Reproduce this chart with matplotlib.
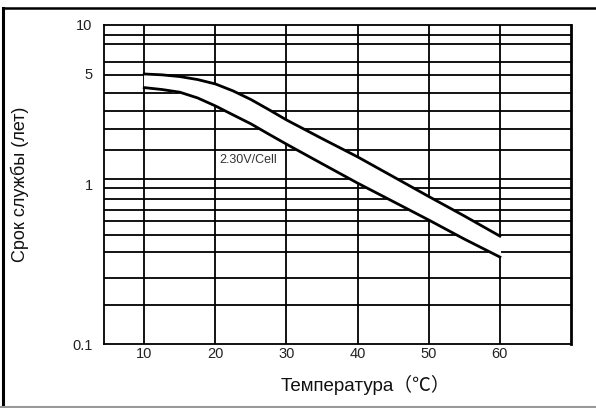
import matplotlib
matplotlib.use("Agg")
import matplotlib.pyplot as plt
from matplotlib.lines import Line2D
from matplotlib.ticker import NullLocator

# Температура (°C) и срок службы (лет) для 2.30V/Cell
temp = [10, 12.5, 15, 17.5, 20, 22.5, 25, 27.5, 30, 35, 40, 45, 50, 55, 60]
life_upper = [4.93, 4.87, 4.75, 4.55, 4.27, 3.86, 3.41, 2.95, 2.54,
              1.94, 1.49, 1.12, 0.841, 0.635, 0.475]
life_lower = [4.05, 3.94, 3.79, 3.49, 3.11, 2.73, 2.40, 2.07, 1.79,
              1.35, 1.02, 0.782, 0.599, 0.455, 0.351]

# сетка графика
x_grid = [10, 20, 30, 40, 50, 60]
y_grid = [8.66, 7.60, 5.86, 4.86, 3.72, 2.89, 2.24, 1.65, 1.08, 0.95,
          0.81, 0.69, 0.59, 0.48, 0.38, 0.26, 0.176]

y_ticks = [0.1, 1, 5, 10]
y_ticklabels = ["0.1", "1", "5", "10"]

W, H = 596, 408
fig = plt.figure(figsize=(W / 100, H / 100), dpi=100)
ax = fig.add_axes([104.4 / W, 1 - 344 / H, (571 - 104.4) / W, (344 - 25) / H])

ax.set_yscale("log")
ax.set_xlim(4.4, 70)
ax.set_ylim(0.1, 10)

for x in x_grid:
    ax.axvline(x, color="black", lw=1.3, zorder=1)
for y in y_grid:
    ax.axhline(y, color="black", lw=1.3, zorder=1)

# белая полоса между кривыми
ax.fill_between(temp, life_lower, life_upper, color="white", zorder=2)
ax.plot(temp, life_upper, color="black", lw=2.0, zorder=3)
ax.plot(temp, life_lower, color="black", lw=2.0, zorder=3)

ax.text(20.5, 1.42, "2.30V/Cell", fontsize=9, color="#333333",
        family="Liberation Sans", va="center", ha="left", zorder=4,
        bbox=dict(facecolor="white", edgecolor="none", pad=0.5))

ax.set_xticks(x_grid)
ax.set_xticklabels([str(x) for x in x_grid])
ax.set_yticks(y_ticks)
ax.set_yticklabels(y_ticklabels)
ax.yaxis.set_minor_locator(NullLocator())
ax.tick_params(axis="x", length=0, pad=2.5, labelsize=10.5, labelcolor="#222222")
ax.tick_params(axis="y", length=0, pad=8.5, labelsize=10.5, labelcolor="#222222")
for lbl in ax.get_xticklabels() + ax.get_yticklabels():
    lbl.set_family("Liberation Sans")

for side in ["left", "bottom", "top"]:
    ax.spines[side].set_linewidth(1.3)
ax.spines["right"].set_linewidth(2.0)

ax.set_ylabel("Срок службы (лет)", fontsize=13, family="Liberation Sans",
              color="#111111")
ax.yaxis.set_label_coords(-0.162, 0.5)
fig.text(365 / W, 1 - 385 / H, "Температура（℃）", fontsize=13.5,
         family=["Liberation Sans", "Noto Sans CJK SC", "DejaVu Sans"],
         color="#111111", ha="center", va="center")

# рамка вокруг рисунка
fig.add_artist(Line2D([2.5 / W, 1], [1 - 7.5 / H, 1 - 7.5 / H], color="black", lw=1.8))
fig.add_artist(Line2D([2.5 / W, 2.5 / W], [0, 1 - 7.5 / H], color="black", lw=2.2))
fig.add_artist(Line2D([0, 1], [0.8 / H, 0.8 / H], color="#999999", lw=1.5))

fig.savefig("out.png", dpi=100)
